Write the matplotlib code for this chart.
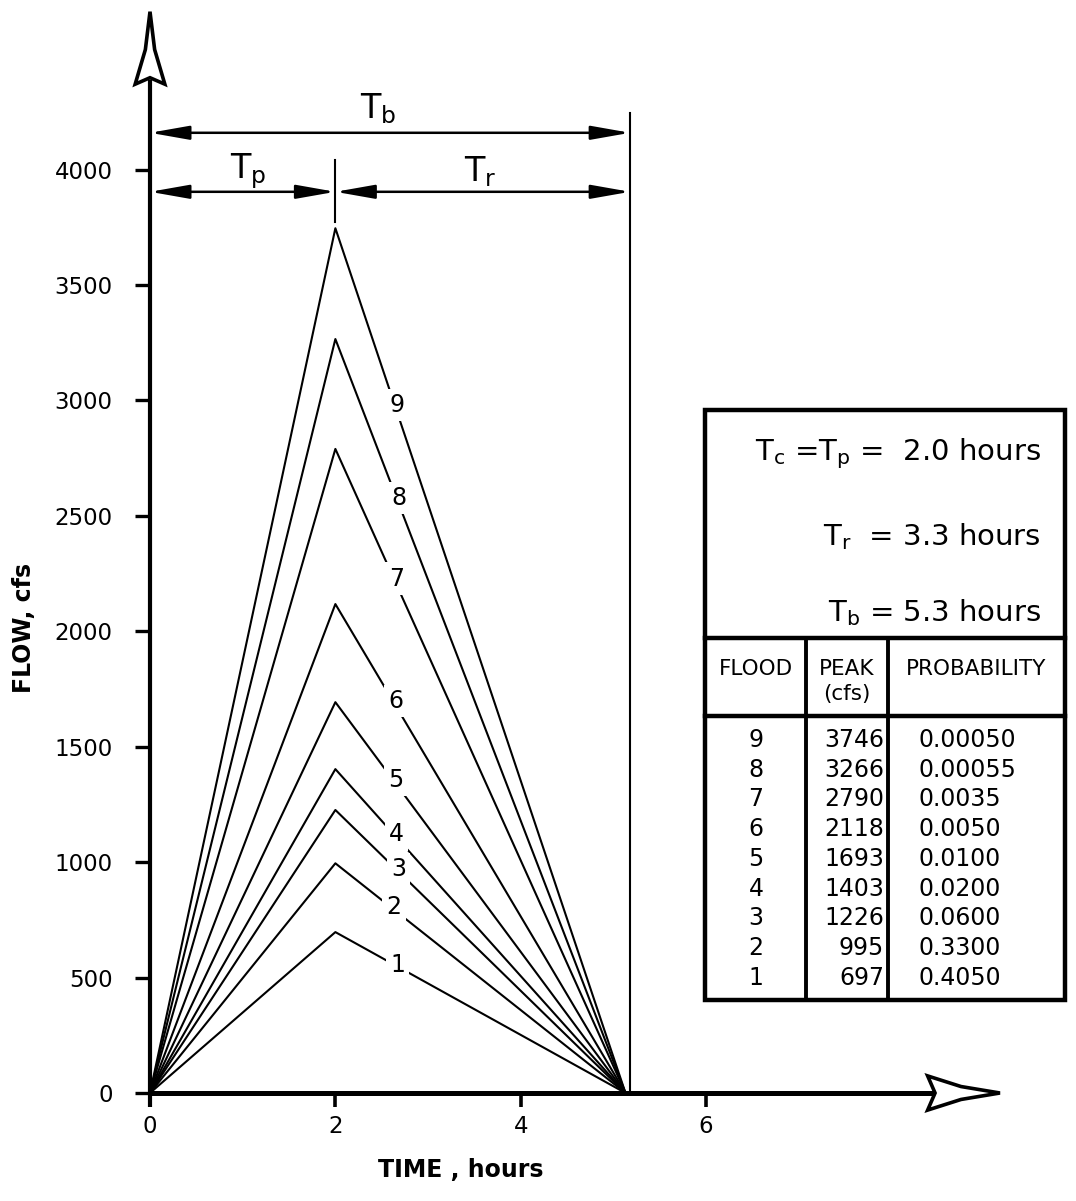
import matplotlib
matplotlib.use("Agg")  # render to file, no GUI
import matplotlib.pyplot as plt
from matplotlib.patches import Polygon, Rectangle

plt.rcParams["font.family"] = ["DejaVu Sans"]
plt.rcParams["mathtext.fontset"] = "dejavusans"

# flood hydrograph data
flood_ids = [9, 8, 7, 6, 5, 4, 3, 2, 1]
peak_cfs = [3746, 3266, 2790, 2118, 1693, 1403, 1226, 995, 697]
probability = ["0.00050", "0.00055", "0.0035", "0.0050", "0.0100",
               "0.0200", "0.0600", "0.3300", "0.4050"]
# where the curve numbers sit along the falling limb (hours)
label_x = [2.64, 2.66, 2.63, 2.62, 2.62, 2.63, 2.65, 2.60, 2.64]

t_peak = 2.0      # hours
t_base = 5.13     # hours, where the drawn limbs meet the axis
t_line = 5.18     # hours, the vertical T_b mark
y_ticks = [0, 500, 1000, 1500, 2000, 2500, 3000, 3500, 4000]
x_ticks = [0, 2, 4, 6]

fig = plt.figure(figsize=(10.76, 12.01), dpi=100)
ax = fig.add_axes([150 / 1076, 108 / 1201, 862 / 1076, 1085 / 1201])
ax.set_xlim(0, 9.3)
ax.set_ylim(0, 4700)
for s in ax.spines.values():
    s.set_visible(False)

# hydrographs
for fid, pk, lx in zip(flood_ids, peak_cfs, label_x):
    ax.plot([0, t_peak, t_base], [0, pk, 0], color="black", lw=1.5, zorder=2)
    ly = pk * (t_base - lx) / (t_base - t_peak)
    ax.text(lx + 0.03, ly, str(fid), ha="center", va="center", fontsize=17,
            zorder=4, bbox=dict(fc="white", ec="none", pad=3))

# axes drawn as heavy lines with open arrow heads
ax.plot([0, 8.45], [0, 0], color="black", lw=3.6, zorder=3,
        solid_capstyle="butt", clip_on=False)
ax.plot([0, 0], [-60, 4390], color="black", lw=3.0, zorder=3,
        solid_capstyle="butt", clip_on=False)
ax.add_patch(Polygon([(9.17, 0), (8.75, 28), (8.39, 74), (8.47, 0),
                      (8.39, -74), (8.75, -28)], closed=True,
                     fc="white", ec="black", lw=2.6, zorder=5, clip_on=False))
ax.add_patch(Polygon([(0, 4684), (-0.05, 4520), (-0.16, 4370), (0, 4398),
                      (0.16, 4370), (0.05, 4520)], closed=True,
                     fc="white", ec="black", lw=2.6, zorder=5, clip_on=False))

# ticks
ax.set_yticks(y_ticks)
ax.set_yticklabels([str(v) for v in y_ticks])
ax.set_xticks(x_ticks)
ax.set_xticklabels([str(v) for v in x_ticks])
ax.tick_params(axis="y", direction="out", length=11, width=2.4, pad=16, labelsize=16.5)
ax.tick_params(axis="x", direction="out", length=10, width=2.6, pad=6, labelsize=16.5)

ax.text(-0.146, 0.4286, "FLOW, cfs", transform=ax.transAxes, rotation=90,
        ha="center", va="center", fontsize=17, fontweight="bold")
ax.text(0.36, -0.071, "TIME , hours", transform=ax.transAxes,
        ha="center", va="center", fontsize=17, fontweight="bold")

# time-base dimension lines
y_tb = (1093 - 133) / 0.2308
y_tp = (1093 - 192) / 0.2308
ax.plot([t_line, t_line], [0, 4245], color="black", lw=1.5, zorder=2)
ax.plot([t_peak, t_peak], [3774, 4042], color="black", lw=1.5, zorder=2)
arrow = dict(arrowstyle="<|-|>,head_length=1.7,head_width=0.3",
             color="black", lw=1.8, mutation_scale=14, shrinkA=0, shrinkB=0)
ax.annotate("", xy=(0, y_tb), xytext=(t_line, y_tb), arrowprops=arrow)
ax.annotate("", xy=(0, y_tp), xytext=(t_peak, y_tp), arrowprops=arrow)
ax.annotate("", xy=(t_peak, y_tp), xytext=(t_line, y_tp), arrowprops=arrow)
ax.text(2.46, 4265, r"$\mathrm{T_b}$", ha="center", va="center", fontsize=24)
ax.text(1.06, 3995, r"$\mathrm{T_p}$", ha="center", va="center", fontsize=24)
ax.text(3.56, 3990, r"$\mathrm{T_r}$", ha="center", va="center", fontsize=24)

# info box and table, laid out in figure pixels
ov = fig.add_axes([0, 0, 1, 1], zorder=10)
ov.set_xlim(0, 1076)
ov.set_ylim(1201, 0)
ov.axis("off")
ov.patch.set_alpha(0)

ov.add_patch(Rectangle((705, 410), 360, 590, fill=False, ec="black", lw=3.2))
ov.plot([705, 1065], [638, 638], color="black", lw=3.2)
ov.plot([705, 1065], [716, 716], color="black", lw=3.2)
ov.plot([806, 806], [638, 1000], color="black", lw=2.8)
ov.plot([888, 888], [638, 1000], color="black", lw=2.8)

ov.text(1041, 460, r"$\mathrm{T_c}$ =$\mathrm{T_p}$ =  2.0 hours",
        ha="right", va="baseline", fontsize=21)
ov.text(1041, 545, r"$\mathrm{T_r}$  = 3.3 hours", ha="right", va="baseline", fontsize=21)
ov.text(1041, 621, r"$\mathrm{T_b}$ = 5.3 hours", ha="right", va="baseline", fontsize=21)

ov.text(756, 669, "FLOOD", ha="center", va="center", fontsize=15.5)
ov.text(847, 669, "PEAK", ha="center", va="center", fontsize=15.5)
ov.text(847, 694, "(cfs)", ha="center", va="center", fontsize=15.5)
ov.text(976, 669, "PROBABILITY", ha="center", va="center", fontsize=15.5)

for i, (fid, pk, pr) in enumerate(zip(flood_ids, peak_cfs, probability)):
    yy = 740 + i * 29.7
    ov.text(756, yy, str(fid), ha="center", va="center", fontsize=17)
    ov.text(884, yy, str(pk), ha="right", va="center", fontsize=17)
    ov.text(918, yy, pr, ha="left", va="center", fontsize=17)

fig.savefig("out.png", dpi=100)
